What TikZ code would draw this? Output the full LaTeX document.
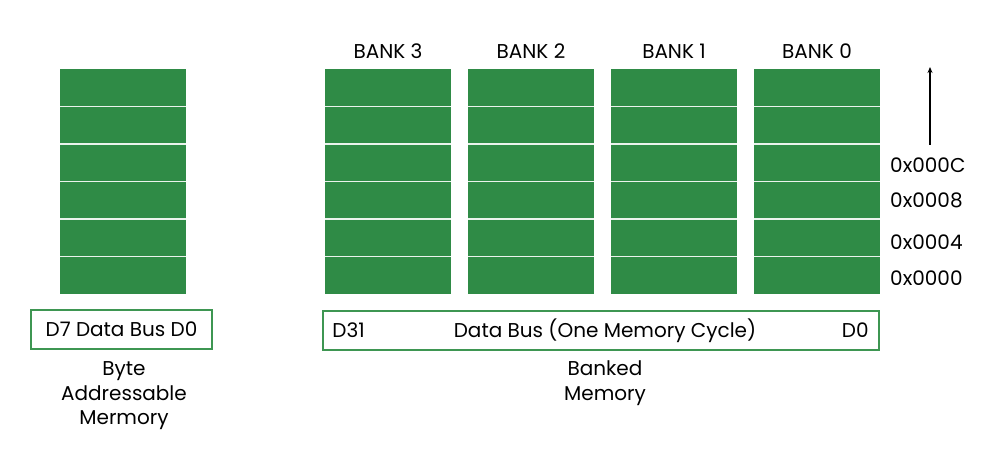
\documentclass[tikz,border=0pt]{standalone}
\usepackage{fontspec}
\setmainfont{Poppins}
\usetikzlibrary{arrows.meta}
\definecolor{memgreen}{RGB}{47,139,70}
\definecolor{boxgreen}{RGB}{62,150,82}
\tikzset{
  cell/.style={fill=memgreen, draw=none},
  sep/.style={draw=white!90!memgreen, line width=1.6pt},
  busbox/.style={draw=boxgreen, line width=1.5pt, fill=none},
  lbl/.style={font=\fontsize{20}{24}\selectfont, text=black, inner sep=0pt},
}
\begin{document}
\begin{tikzpicture}[x=1pt,y=-1pt]
\useasboundingbox (0,0) rectangle (1000,470);
% byte addressable column
\fill[memgreen] (60,69) rectangle (186,294);
\foreach \i in {1,...,5} {\draw[sep] (60,{69+\i*37.5}) -- (186,{69+\i*37.5});}
% banks
\foreach \k/\n in {0/3,1/2,2/1,3/0} {
  \pgfmathsetmacro{\xl}{325+143*\k}
  \fill[memgreen] (\xl,69) rectangle (\xl+126,294);
  \foreach \i in {1,...,5} {\draw[sep] (\xl,{69+\i*37.5}) -- (\xl+126,{69+\i*37.5});}
  \node[lbl] (bank\n) at (\xl+63,51) {BANK \n};
}
% left bus
\node[busbox, minimum width=181pt, minimum height=39pt, inner sep=0pt] (lbus) at (121.5,329.5) {};
\node[lbl] (lbustxt) at (lbus.center) {D7 Data Bus D0};
\node[lbl, align=center, font=\fontsize{20}{24.5}\selectfont] (lcap) at (124,396) {Byte\\Addressable\\Mermory};
% right bus
\node[busbox, minimum width=556pt, minimum height=39pt, inner sep=0pt] (rbus) at (601,330.5) {};
\node[lbl, anchor=west] (d31) at ([xshift=10pt]rbus.west) {D31};
\node[lbl] (dbus) at (605,330.5) {Data Bus (One Memory Cycle)};
\node[lbl, anchor=east] (d0) at ([xshift=-11pt]rbus.east) {D0};
\node[lbl, align=center, font=\fontsize{20}{24.5}\selectfont] (rcap) at (605,383) {Banked\\Memory};
% addresses
\node[lbl, anchor=west] (a12) at (890,165) {0x000C};
\node[lbl, anchor=west] (a8) at (890,200) {0x0008};
\node[lbl, anchor=west] (a4) at (890,242) {0x0004};
\node[lbl, anchor=west] (a0) at (890,278) {0x0000};
\coordinate (atop) at (930,67);
\coordinate (abot) at (930,145);
\draw[line width=1.3pt, -{Stealth[length=6pt,width=5pt]}] (abot) -- (atop);
\end{tikzpicture}
\end{document}
